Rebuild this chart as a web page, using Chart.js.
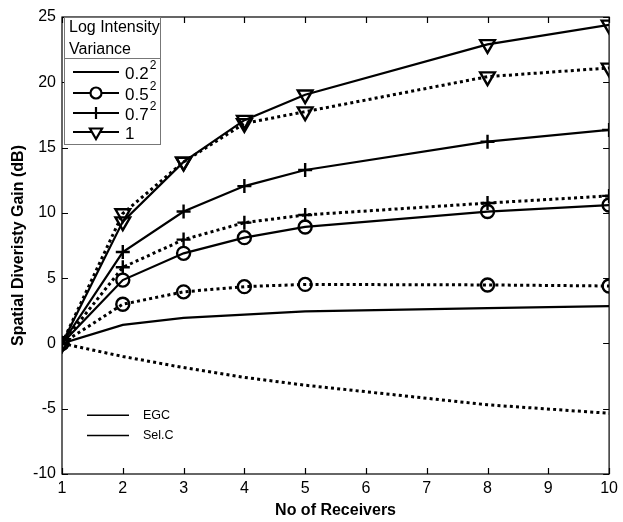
<!DOCTYPE html>
<html>
<head>
<meta charset="utf-8">
<script src="https://cdn.jsdelivr.net/npm/chart.js@4/dist/chart.umd.min.js"></script>
<style>
  html, body { margin: 0; padding: 0; background: #fff; }
  #wrap { width: 623px; height: 522px; position: relative; }
</style>
</head>
<body>
<div id="wrap"><canvas id="c" width="623" height="522"></canvas></div>
<script>
// ---- data ----
const receivers = [1, 2, 3, 4, 5, 8, 10];
const egc02 = [0, 1.42, 1.95, 2.2, 2.45, 2.7, 2.85];
const sel02 = [0, -1.0, -1.85, -2.6, -3.2, -4.7, -5.35];
const egc05 = [0, 4.85, 6.9, 8.1, 8.92, 10.1, 10.6];
const sel05 = [0, 3.0, 3.95, 4.35, 4.52, 4.48, 4.4];
const egc07 = [0, 7.0, 10.1, 12.05, 13.28, 15.45, 16.35];
const sel07 = [0, 5.83, 7.95, 9.25, 9.84, 10.75, 11.3];
const egc1 = [0, 9.33, 13.9, 17.1, 19.05, 22.9, 24.4];
const sel1 = [0, 9.95, 13.9, 16.85, 17.75, 20.43, 21.1];

const xTicks = [1, 2, 3, 4, 5, 6, 7, 8, 9, 10];
const yTicks = [-10, -5, 0, 5, 10, 15, 20, 25];

const legendTitle = ['Log Intensity', 'Variance'];
const varianceBase = ['0.2', '0.5', '0.7', '1'];
const varianceSup = ['2', '2', '2', ''];
const methodLabels = ['EGC', 'Sel.C'];

const FONT = '"Liberation Sans", Arial, Helvetica, sans-serif';

function pts(ys) { return receivers.map((x, i) => ({ x: x, y: ys[i] })); }

function ds(label, ys, dotted, style) {
  const o = {
    label: label,
    data: pts(ys),
    borderColor: '#000',
    backgroundColor: '#fff',
    borderWidth: dotted ? 3 : 2.2,
    borderDash: dotted ? [3, 3.2] : [],
    tension: 0,
    pointStyle: style || 'circle',
    pointRadius: style ? 6.5 : 0,
    pointBorderColor: '#000',
    pointBackgroundColor: 'rgba(255,255,255,0)',
    pointBorderWidth: 2.4,
    pointRotation: 0
  };
  if (style === 'triangle') { o.pointRotation = 180; o.pointRadius = 8.5; }
  if (style === 'cross') { o.pointRadius = 7; }
  return o;
}

const datasets = [
  ds('EGC 0.2', egc02, false, null),
  ds('Sel 0.2', sel02, true, null),
  ds('EGC 0.5', egc05, false, 'circle'),
  ds('Sel 0.5', sel05, true, 'circle'),
  ds('EGC 0.7', egc07, false, 'cross'),
  ds('Sel 0.7', sel07, true, 'cross'),
  ds('EGC 1', egc1, false, 'triangle'),
  ds('Sel 1', sel1, true, 'triangle')
];

function drawMarker(ctx, style, x, y) {
  ctx.save();
  ctx.strokeStyle = '#000';
  ctx.fillStyle = '#fff';
  ctx.lineWidth = 2.2;
  if (style === 'circle') {
    ctx.beginPath(); ctx.arc(x, y, 5.5, 0, Math.PI * 2); ctx.fill(); ctx.stroke();
  } else if (style === 'cross') {
    ctx.beginPath(); ctx.moveTo(x - 6, y); ctx.lineTo(x + 6, y); ctx.moveTo(x, y - 6); ctx.lineTo(x, y + 6); ctx.stroke();
  } else if (style === 'triangle') {
    const r = 7;
    ctx.beginPath();
    ctx.moveTo(x - r * 0.866, y - r * 0.5);
    ctx.lineTo(x + r * 0.866, y - r * 0.5);
    ctx.lineTo(x, y + r);
    ctx.closePath(); ctx.fill(); ctx.stroke();
  }
  ctx.restore();
}

const framePlugin = {
  id: 'frame',
  afterDraw(chart) {
    const ctx = chart.ctx;
    const a = chart.chartArea;
    const xs = chart.scales.x, ys = chart.scales.y;
    ctx.save();
    ctx.strokeStyle = '#000';
    ctx.lineWidth = 1.2;
    ctx.strokeRect(a.left, a.top, a.right - a.left, a.bottom - a.top);
    ctx.beginPath();
    xTicks.forEach(v => {
      const px = Math.round(xs.getPixelForValue(v)) + 0.5;
      ctx.moveTo(px, a.bottom); ctx.lineTo(px, a.bottom - 6);
      ctx.moveTo(px, a.top); ctx.lineTo(px, a.top + 6);
    });
    yTicks.forEach(v => {
      const py = Math.round(ys.getPixelForValue(v)) + 0.5;
      ctx.moveTo(a.left, py); ctx.lineTo(a.left + 6, py);
      ctx.moveTo(a.right, py); ctx.lineTo(a.right - 6, py);
    });
    ctx.stroke();

    // ---- variance legend (top-left) ----
    const L = a.left + 2, T = a.top, R = a.left + 98, B = a.top + 127;
    ctx.fillStyle = '#fff';
    ctx.fillRect(L, T, R - L, B - T);
    ctx.strokeStyle = '#777';
    ctx.lineWidth = 1;
    ctx.strokeRect(L + 0.5, T + 0.5, R - L, B - T);
    ctx.beginPath(); ctx.moveTo(L, T + 41.5); ctx.lineTo(R, T + 41.5); ctx.stroke();
    ctx.fillStyle = '#000';
    ctx.font = '16px ' + FONT;
    ctx.textBaseline = 'middle';
    ctx.textAlign = 'left';
    ctx.fillText(legendTitle[0], L + 5, T + 11);
    ctx.fillText(legendTitle[1], L + 5, T + 33);
    const styles = [null, 'circle', 'cross', 'triangle'];
    const rowY = [T + 55, T + 76, T + 96, T + 115];
    for (let i = 0; i < 4; i++) {
      const y = rowY[i];
      ctx.strokeStyle = '#000';
      ctx.lineWidth = 2.2;
      ctx.beginPath(); ctx.moveTo(L + 9, y); ctx.lineTo(L + 55, y); ctx.stroke();
      if (styles[i]) drawMarker(ctx, styles[i], L + 32, y);
      ctx.font = '17px ' + FONT;
      ctx.fillStyle = '#000';
      ctx.fillText(varianceBase[i], L + 61, y + 2);
      const w = ctx.measureText(varianceBase[i]).width;
      if (varianceSup[i]) {
        ctx.font = '12px ' + FONT;
        ctx.fillText(varianceSup[i], L + 61 + w + 1, y - 6);
      }
    }

    // ---- method legend (bottom-left) ----
    const my = [ys.getPixelForValue(-5.5), ys.getPixelForValue(-7.05)];
    ctx.font = '12.5px ' + FONT;
    for (let i = 0; i < 2; i++) {
      ctx.strokeStyle = '#000';
      ctx.lineWidth = 1.5;
      ctx.beginPath(); ctx.moveTo(a.left + 25, my[i]); ctx.lineTo(a.left + 67, my[i]); ctx.stroke();
      ctx.fillStyle = '#000';
      ctx.fillText(methodLabels[i], a.left + 81, my[i]);
    }
    ctx.restore();
  }
};

new Chart(document.getElementById('c'), {
  type: 'line',
  data: { datasets: datasets },
  options: {
    responsive: false,
    animation: false,
    devicePixelRatio: 1,
    layout: { padding: { top: 17, right: 13, left: 0, bottom: 0 } },
    plugins: { legend: { display: false }, tooltip: { enabled: false } },
    scales: {
      x: {
        type: 'linear',
        min: 1, max: 10,
        afterFit(s) { s.height = 48; },
        afterBuildTicks(s) { s.ticks = xTicks.map(v => ({ value: v })); },
        grid: { display: false, drawTicks: false },
        border: { display: false },
        ticks: { color: '#000', font: { family: FONT, size: 16 }, padding: 5, maxRotation: 0, autoSkip: false },
        title: { display: true, text: 'No of Receivers', color: '#000', font: { family: FONT, size: 16, weight: 'bold' }, padding: { top: 0, bottom: 2 } }
      },
      y: {
        type: 'linear',
        min: -10, max: 25,
        afterFit(s) { s.width = 62; },
        afterBuildTicks(s) { s.ticks = yTicks.map(v => ({ value: v })); },
        grid: { display: false, drawTicks: false },
        border: { display: false },
        ticks: { color: '#000', font: { family: FONT, size: 16 }, padding: 6, autoSkip: false },
        title: { display: true, text: 'Spatial Diveristy Gain (dB)', color: '#000', font: { family: FONT, size: 16, weight: 'bold' }, padding: { top: 9, bottom: 0 } }
      }
    }
  },
  plugins: [framePlugin]
});
</script>
</body>
</html>
